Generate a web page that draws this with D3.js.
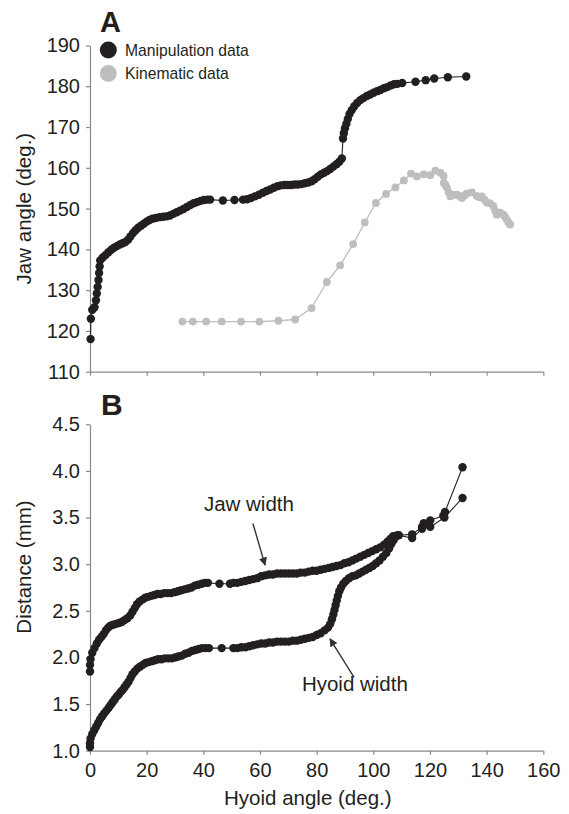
<!DOCTYPE html>
<html>
<head>
<meta charset="utf-8">
<script src="https://cdn.jsdelivr.net/npm/d3@7"></script>
<style>
body { margin: 0; background: #fff; }
svg text { font-family: "Liberation Sans", Arial, Helvetica, sans-serif; fill: #231f20; }
.axis path, .axis line { stroke: #8a8a8a; stroke-width: 1.2; }
.axis text { font-size: 20px; }
</style>
</head>
<body>
<svg id="graph" width="569" height="814"></svg>
<script>
// Panel A: jaw angle vs hyoid angle
var manipX = [0.2, 0.3, 0.8, 1.6, 2.1, 2.4, 2.7, 3.0, 3.2, 3.4, 3.6, 4.5, 5.5, 6.5, 7.5, 8.5, 9.5, 10.5, 11.5, 12.5,
    13.5, 14.3, 15.2, 16.1, 17.0, 18.0, 19.0, 20.0, 21.0, 22.0, 23.2, 24.5, 25.8, 27.0, 28.2, 29.4, 30.6, 31.8, 33.0, 34.2,
    35.4, 36.6, 37.8, 39.0, 40.2, 41.4, 42.4, 46.9, 51.0, 54.0, 55.4, 56.8, 58.2, 59.6, 61.0, 62.3, 63.6, 64.9, 66.2, 67.4,
    68.6, 69.8, 71.0, 72.2, 73.4, 74.6, 75.8, 77.0, 78.2, 79.3, 80.4, 81.5, 82.6, 83.7, 84.8, 85.9, 87.0, 88.0, 88.9, 89.3,
    89.6, 90.0, 90.5, 91.0, 91.6, 92.4, 93.3, 94.3, 95.4, 96.5, 97.7, 98.9, 100.1, 101.3, 102.5, 103.7, 104.9, 106.1, 107.3, 108.5,
    110.2, 114.9, 118.5, 121.5, 126.3, 132.8]
var manipY = [118.0, 123.0, 125.2, 125.8, 127.5, 129.2, 130.8, 132.5, 134.2, 135.8, 137.3, 138.0, 138.6, 139.3, 139.9, 140.4, 140.8, 141.2, 141.5, 141.8,
    142.4, 143.2, 144.0, 144.7, 145.3, 145.8, 146.3, 146.8, 147.2, 147.5, 147.7, 147.9, 148.0, 148.1, 148.3, 148.7, 149.1, 149.5, 149.9, 150.4,
    150.9, 151.3, 151.6, 151.9, 152.1, 152.2, 152.2, 152.0, 152.1, 152.2, 152.3, 152.6, 153.0, 153.4, 153.9, 154.3, 154.7, 155.1, 155.5, 155.7,
    155.8, 155.8, 155.8, 155.9, 155.9, 156.0, 156.2, 156.4, 156.7, 157.2, 157.8, 158.4, 158.8, 159.2, 159.7, 160.3, 160.9, 161.5, 162.3, 167.2,
    168.5, 169.7, 170.8, 172.0, 173.2, 174.2, 175.1, 175.9, 176.6, 177.1, 177.6, 178.0, 178.4, 178.8, 179.1, 179.5, 179.8, 180.2, 180.5, 180.6,
    180.8, 181.1, 181.5, 181.9, 182.2, 182.4]

var kinX = [32.6, 36.3, 41.0, 46.5, 53.3, 59.8, 66.5, 72.4, 78.2, 83.6, 88.3, 92.9, 97.0, 100.9, 104.5, 107.8, 110.8, 113.3, 115.4, 117.8,
    120.1, 121.9, 123.7, 124.8, 124.9, 125.5, 126.0, 126.6, 127.2, 128.4, 129.5, 130.4, 131.3, 132.2, 133.0, 134.8, 136.5, 137.4, 138.3, 139.2,
    140.1, 141.2, 142.4, 143.0, 143.6, 144.8, 145.9, 146.5, 147.1, 147.7, 148.3]
var kinY = [122.3, 122.3, 122.3, 122.3, 122.3, 122.3, 122.5, 122.8, 125.6, 132.0, 136.1, 141.3, 146.6, 151.4, 153.6, 155.2, 156.9, 158.6, 157.9, 158.4,
    158.2, 159.3, 158.8, 158.0, 156.3, 155.8, 155.1, 154.0, 153.0, 153.4, 153.4, 153.1, 152.6, 153.2, 153.7, 154.0, 153.1, 152.8, 153.0, 152.2,
    151.5, 151.3, 150.6, 149.5, 148.5, 149.0, 148.5, 148.0, 147.3, 146.6, 146.1]

// Panel B: jaw width and hyoid width (mm)
var jawX = [0, 0, 0.2, 0.8, 1.6, 2.4, 3.2, 4.0, 4.8, 5.6, 6.4, 7.2, 8.2, 9.2, 10.2, 11.2, 12.2, 13.2, 14.2, 15.0,
    15.8, 16.6, 17.5, 18.5, 19.5, 20.5, 21.6, 22.7, 23.8, 25.0, 26.2, 27.4, 28.6, 29.8, 31.0, 32.2, 33.4, 34.6, 35.8, 37.0,
    38.2, 39.4, 40.6, 41.6, 45.7, 49.4, 50.6, 52.0, 53.4, 54.8, 56.2, 57.6, 59.0, 60.4, 61.8, 63.2, 64.6, 66.0, 67.4, 68.8,
    70.2, 71.6, 73.0, 74.4, 75.8, 77.2, 78.6, 80.0, 81.4, 82.8, 84.2, 85.6, 87.0, 88.4, 89.8, 91.2, 92.6, 94.0, 95.4, 96.8,
    98.2, 99.6, 101.0, 102.4, 103.8, 105.0, 106.0, 107.0, 108.5, 113.7, 117.2, 117.8, 120.1, 124.7, 125.3, 131.5]
var jawY = [1.85, 1.92, 1.98, 2.05, 2.10, 2.15, 2.19, 2.22, 2.25, 2.29, 2.32, 2.34, 2.35, 2.36, 2.37, 2.38, 2.40, 2.42, 2.45, 2.49,
    2.53, 2.57, 2.60, 2.62, 2.64, 2.65, 2.66, 2.67, 2.68, 2.68, 2.69, 2.69, 2.69, 2.70, 2.71, 2.72, 2.73, 2.74, 2.75, 2.77,
    2.78, 2.79, 2.80, 2.80, 2.79, 2.79, 2.80, 2.80, 2.81, 2.82, 2.83, 2.84, 2.85, 2.87, 2.88, 2.89, 2.89, 2.90, 2.90, 2.90,
    2.90, 2.90, 2.90, 2.91, 2.91, 2.92, 2.93, 2.93, 2.94, 2.95, 2.96, 2.97, 2.98, 2.99, 3.01, 3.02, 3.04, 3.06, 3.08, 3.10,
    3.12, 3.14, 3.16, 3.18, 3.21, 3.24, 3.27, 3.30, 3.31, 3.32, 3.40, 3.44, 3.47, 3.52, 3.56, 4.04]

var hyoidX = [0, 0, 0.2, 0.8, 1.5, 2.2, 2.9, 3.6, 4.3, 5.0, 5.8, 6.6, 7.3, 8.0, 8.7, 9.4, 10.1, 10.8, 11.5, 12.2,
    12.9, 13.6, 14.3, 15.0, 15.8, 16.7, 17.6, 18.6, 19.6, 20.7, 21.8, 22.9, 24.0, 25.2, 26.4, 27.6, 28.8, 30.0, 31.2, 32.4,
    33.6, 34.8, 36.0, 37.2, 38.4, 39.6, 40.8, 42.0, 46.5, 50.6, 52.0, 53.4, 54.8, 56.2, 57.6, 59.0, 60.4, 61.8, 63.2, 64.6,
    66.0, 67.4, 68.8, 70.2, 71.6, 73.0, 74.4, 75.8, 77.2, 78.6, 80.0, 81.4, 82.8, 84.0, 84.8, 85.4, 85.9, 86.3, 86.7, 87.1,
    87.5, 88.0, 88.6, 89.4, 90.3, 91.4, 92.6, 93.8, 95.0, 96.2, 97.4, 98.6, 99.8, 101.0, 102.2, 103.4, 104.6, 105.6, 106.4, 107.2,
    108.0, 109.0, 113.7, 117.2, 120.1, 125.1, 131.5]
var hyoidY = [1.04, 1.08, 1.13, 1.18, 1.22, 1.26, 1.30, 1.34, 1.37, 1.40, 1.43, 1.46, 1.49, 1.52, 1.55, 1.58, 1.60, 1.63, 1.65, 1.68,
    1.71, 1.74, 1.78, 1.82, 1.85, 1.88, 1.90, 1.92, 1.94, 1.95, 1.96, 1.97, 1.98, 1.98, 1.99, 1.99, 1.99, 2.00, 2.01, 2.02,
    2.04, 2.05, 2.07, 2.08, 2.09, 2.10, 2.10, 2.10, 2.10, 2.10, 2.10, 2.11, 2.11, 2.12, 2.13, 2.14, 2.15, 2.15, 2.16, 2.16,
    2.17, 2.17, 2.17, 2.17, 2.18, 2.18, 2.19, 2.20, 2.21, 2.22, 2.24, 2.26, 2.29, 2.32, 2.36, 2.41, 2.46, 2.51, 2.56, 2.61,
    2.66, 2.71, 2.75, 2.79, 2.82, 2.85, 2.87, 2.88, 2.90, 2.92, 2.94, 2.96, 2.98, 3.01, 3.04, 3.08, 3.12, 3.17, 3.22, 3.26,
    3.30, 3.31, 3.28, 3.38, 3.40, 3.50, 3.71]

var xTicks = [0, 20, 40, 60, 80, 100, 120, 140, 160]
var jawAngleTicks = [110, 120, 130, 140, 150, 160, 170, 180, 190]
var distTicks = [1.0, 1.5, 2.0, 2.5, 3.0, 3.5, 4.0, 4.5]

var dark = "#231f20", grey = "#bcbec0"
var svg = d3.select("#graph")

var xScale = d3.scaleLinear().domain([0, 160]).range([90, 543.3])
var yA = d3.scaleLinear().domain([110, 190]).range([371.7, 45.5])
var yB = d3.scaleLinear().domain([1.0, 4.5]).range([750.7, 424.3])

function pts(xs, ys) { return xs.map((x, i) => ({ x: x, y: ys[i] })) }

function series(sel, data, y, color, lw, r) {
    var line = d3.line().x(d => xScale(d.x)).y(d => y(d.y))
    sel.append("path").datum(data)
        .attr("d", line).attr("fill", "none")
        .attr("stroke", color).attr("stroke-width", lw)
    sel.selectAll(null).data(data).enter().append("circle")
        .attr("cx", d => xScale(d.x)).attr("cy", d => y(d.y))
        .attr("r", r).attr("fill", color)
}

// axes
svg.append("g").attr("class", "axis")
    .attr("transform", "translate(0," + yA.range()[0] + ")")
    .call(d3.axisBottom(xScale).tickValues(xTicks).tickFormat("").tickSize(4).tickSizeOuter(0))
svg.append("g").attr("class", "axis")
    .attr("transform", "translate(90,0)")
    .call(d3.axisLeft(yA).tickValues(jawAngleTicks).tickSize(4).tickPadding(6).tickSizeOuter(0))
svg.append("g").attr("class", "axis")
    .attr("transform", "translate(0," + yB.range()[0] + ")")
    .call(d3.axisBottom(xScale).tickValues(xTicks).tickSize(4).tickPadding(8).tickSizeOuter(0))
svg.append("g").attr("class", "axis")
    .attr("transform", "translate(90,0)")
    .call(d3.axisLeft(yB).tickValues(distTicks).tickFormat(d3.format(".1f")).tickSize(4).tickPadding(6).tickSizeOuter(0))
svg.selectAll(".axis text").attr("fill", dark)

// series
var gA = svg.append("g")
series(gA, pts(kinX, kinY), yA, grey, 1.3, 3.9)
series(gA, pts(manipX, manipY), yA, dark, 1.1, 4.2)
var gB = svg.append("g")
series(gB, pts(hyoidX, hyoidY), yB, dark, 1.1, 4.2)
series(gB, pts(jawX, jawY), yB, dark, 1.1, 4.2)

// titles and labels
svg.append("text").attr("x", 100).attr("y", 32).attr("font-size", 29).attr("font-weight", "bold").text("A")
svg.append("text").attr("x", 101).attr("y", 415).attr("font-size", 30).attr("font-weight", "bold").text("B")
svg.append("text").attr("transform", "translate(31," + (yA.range()[0] + yA.range()[1]) / 2 + ") rotate(-90)")
    .attr("text-anchor", "middle").attr("font-size", 20.5).text("Jaw angle (deg.)")
svg.append("text").attr("transform", "translate(31,567) rotate(-90)")
    .attr("text-anchor", "middle").attr("font-size", 20.5).text("Distance (mm)")
svg.append("text").attr("x", (xScale(0) + xScale(110)) / 2 + 62).attr("y", 805)
    .attr("text-anchor", "middle").attr("font-size", 20.5).text("Hyoid angle (deg.)")

// legend
var legend = [["Manipulation data", dark], ["Kinematic data", grey]]
legend.forEach((d, i) => {
    svg.append("circle").attr("cx", 108.3).attr("cy", 50 + i * 23.5).attr("r", 8.5).attr("fill", d[1])
    svg.append("text").attr("x", 125).attr("y", 55.5 + i * 23.5).attr("font-size", 15.7).text(d[0])
})

// annotations with arrows
svg.append("defs").append("marker")
    .attr("id", "arr").attr("viewBox", "0 0 10 10").attr("refX", 9).attr("refY", 5)
    .attr("markerWidth", 6).attr("markerHeight", 6).attr("orient", "auto")
    .append("path").attr("d", "M0,0L10,5L0,10z").attr("fill", "#333")

var notes = [
    { text: "Jaw width", tx: 40.2, ty: 3.57, x1: 57.5, y1: 3.50, x2: 61.8, y2: 2.99 },
    { text: "Hyoid width", tx: 74.8, ty: 1.64, x1: 93.2, y1: 1.85, x2: 84.7, y2: 2.20 }
]
notes.forEach(n => {
    svg.append("text").attr("x", xScale(n.tx)).attr("y", yB(n.ty)).attr("font-size", 20.5).text(n.text)
    svg.append("line")
        .attr("x1", xScale(n.x1)).attr("y1", yB(n.y1) + 6)
        .attr("x2", xScale(n.x2)).attr("y2", yB(n.y2))
        .attr("stroke", "#333").attr("stroke-width", 1.4).attr("marker-end", "url(#arr)")
})
</script>
</body>
</html>
